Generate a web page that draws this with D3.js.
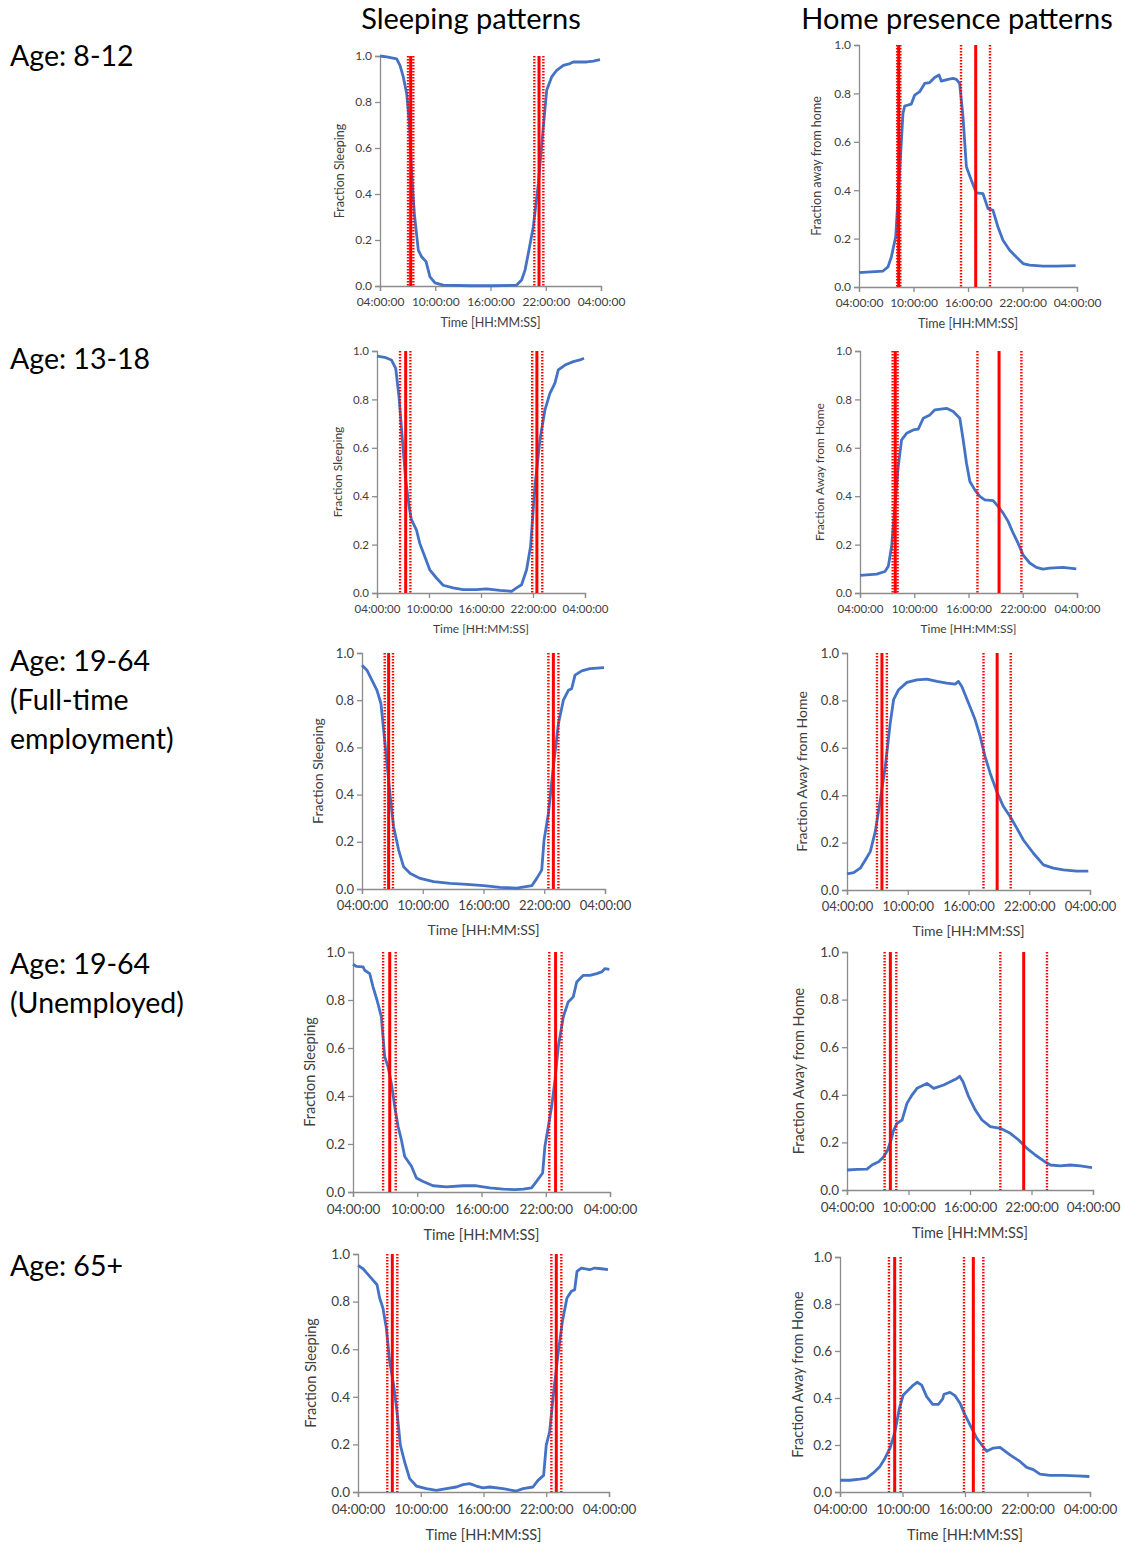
<!DOCTYPE html>
<html>
<head>
<meta charset="utf-8">
<script src="https://cdn.jsdelivr.net/npm/d3@7"></script>
<style>
  body { margin: 0; background: #fff; }
  svg { display: block; font-family: Lato, "Open Sans", sans-serif; }
</style>
</head>
<body>
<svg id="chart" width="1125" height="1546"></svg>
<script>
// x values are hours after 04:00:00, y values are fractions
const timeTicks = [0, 6, 12, 18, 24];
const timeLabels = ['04:00:00', '10:00:00', '16:00:00', '22:00:00', '04:00:00'];
const fracTicks = [0, 0.2, 0.4, 0.6, 0.8, 1.0];

const rowLabels = [
  ['Age: 8-12'],
  ['Age: 13-18'],
  ['Age: 19-64', '(Full-time', 'employment)'],
  ['Age: 19-64', '(Unemployed)'],
  ['Age: 65+']
];
const colTitles = ['Sleeping patterns', 'Home presence patterns'];

// sleeping curves
const sleep812 = [[0,1.0],[0.72,0.996],[1.81,0.988],[2.17,0.959],[2.53,0.909],[2.9,0.836],[3.19,0.706],[3.44,0.489],[3.73,0.315],[4.16,0.156],[4.52,0.127],[5.0,0.106],[5.43,0.04],[5.97,0.014],[6.88,0.004],[9.77,0.001],[12.3,0.001],[14.84,0.004],[15.38,0.026],[15.75,0.069],[16.11,0.142],[16.65,0.258],[17.2,0.446],[17.67,0.663],[18.1,0.851],[18.64,0.909],[19.19,0.938],[19.91,0.959],[20.63,0.967],[21.0,0.974],[22.44,0.974],[23.17,0.978],[23.89,0.984]];
const sleep1318 = [[0,0.979],[0.89,0.974],[1.66,0.963],[2.16,0.928],[2.54,0.811],[2.93,0.633],[3.31,0.468],[3.7,0.358],[3.97,0.303],[4.55,0.261],[4.93,0.206],[5.51,0.151],[6.09,0.096],[6.86,0.062],[7.63,0.032],[8.78,0.021],[9.94,0.014],[11.48,0.014],[12.63,0.017],[14.18,0.011],[15.52,0.007],[16.1,0.021],[16.68,0.034],[17.26,0.096],[17.72,0.193],[18.22,0.44],[18.8,0.633],[19.38,0.757],[19.95,0.825],[20.53,0.867],[20.92,0.922],[21.69,0.942],[22.65,0.956],[23.42,0.963],[23.88,0.97]];
const sleepFull = [[0,0.948],[0.49,0.927],[0.99,0.884],[1.48,0.842],[1.87,0.786],[2.14,0.673],[2.47,0.532],[2.79,0.391],[3.12,0.264],[3.62,0.165],[4.11,0.094],[4.77,0.066],[5.75,0.045],[7.07,0.031],[8.71,0.024],[10.36,0.02],[12.0,0.014],[13.64,0.007],[15.29,0.004],[16.77,0.014],[17.26,0.045],[17.75,0.08],[17.98,0.207],[18.41,0.32],[18.9,0.518],[19.4,0.701],[19.89,0.8],[20.38,0.842],[20.71,0.849],[21.04,0.906],[21.7,0.924],[22.52,0.934],[23.9,0.938]];
const sleepUnemp = [[0,0.949],[0.31,0.94],[0.94,0.938],[1.09,0.924],[1.56,0.91],[1.87,0.855],[2.24,0.8],[2.65,0.73],[2.96,0.564],[3.27,0.522],[3.58,0.453],[3.9,0.356],[4.21,0.273],[4.52,0.217],[4.83,0.148],[5.46,0.107],[5.92,0.058],[6.55,0.044],[7.48,0.026],[8.73,0.021],[10.29,0.026],[11.53,0.026],[12.78,0.017],[14.03,0.012],[15.12,0.01],[15.9,0.012],[16.68,0.017],[17.14,0.044],[17.71,0.079],[17.92,0.19],[18.24,0.273],[18.55,0.356],[18.86,0.467],[19.17,0.605],[19.64,0.73],[20.1,0.792],[20.57,0.813],[20.89,0.875],[21.51,0.903],[22.13,0.903],[22.76,0.91],[23.22,0.917],[23.53,0.931],[23.94,0.928]];
const sleep65 = [[0,0.952],[0.48,0.938],[1.12,0.906],[1.82,0.871],[2.07,0.815],[2.39,0.772],[2.71,0.688],[3.03,0.548],[3.41,0.449],[3.73,0.337],[4.05,0.197],[4.46,0.126],[4.94,0.056],[5.58,0.025],[6.53,0.014],[7.49,0.007],[8.45,0.014],[9.4,0.021],[10.04,0.031],[10.68,0.035],[11.31,0.025],[11.95,0.017],[12.59,0.021],[13.86,0.014],[15.14,0.004],[15.78,0.014],[16.73,0.021],[17.21,0.049],[17.75,0.07],[18.0,0.197],[18.32,0.253],[18.71,0.421],[19.12,0.576],[19.54,0.716],[19.98,0.815],[20.4,0.843],[20.72,0.85],[20.94,0.927],[21.35,0.941],[22.15,0.934],[22.63,0.941],[23.27,0.938],[23.9,0.934]];

// away-from-home curves
const home812 = [[0,0.059],[2.64,0.066],[3.19,0.083],[3.56,0.124],[4.04,0.207],[4.48,0.48],[4.84,0.717],[5.03,0.748],[5.76,0.756],[6.13,0.793],[6.68,0.807],[7.23,0.841],[7.78,0.845],[8.33,0.866],[8.81,0.876],[9.06,0.851],[9.8,0.858],[10.35,0.862],[10.72,0.858],[11.08,0.841],[11.45,0.703],[11.82,0.497],[12.37,0.441],[12.92,0.389],[13.65,0.386],[14.2,0.324],[14.75,0.317],[15.3,0.248],[15.85,0.193],[16.59,0.152],[17.32,0.124],[18.06,0.097],[18.79,0.09],[20.26,0.086],[21.72,0.086],[23.85,0.088]];
const home1318 = [[0,0.073],[1.84,0.078],[2.76,0.089],[3.13,0.11],[3.5,0.193],[3.86,0.358],[4.23,0.523],[4.6,0.633],[5.15,0.66],[5.89,0.674],[6.44,0.677],[7.0,0.722],[7.73,0.736],[8.28,0.757],[9.57,0.763],[10.31,0.75],[11.04,0.722],[11.41,0.633],[11.78,0.536],[12.15,0.461],[12.7,0.426],[13.25,0.399],[13.8,0.385],[14.72,0.382],[15.27,0.358],[15.83,0.33],[16.38,0.296],[16.93,0.248],[17.48,0.206],[18.03,0.158],[18.77,0.124],[19.51,0.106],[20.24,0.099],[20.98,0.103],[22.45,0.106],[23.92,0.1]];
const homeFull = [[0,0.068],[0.66,0.073],[1.31,0.092],[1.81,0.127],[2.3,0.162],[2.79,0.246],[3.29,0.38],[3.78,0.521],[4.27,0.704],[4.6,0.803],[5.1,0.845],[5.92,0.876],[6.9,0.887],[7.89,0.89],[8.88,0.88],[9.86,0.873],[10.68,0.869],[11.01,0.88],[11.34,0.859],[12.0,0.789],[12.66,0.718],[13.15,0.648],[13.64,0.563],[14.14,0.493],[14.79,0.415],[15.45,0.352],[16.11,0.31],[16.77,0.261],[17.42,0.211],[18.41,0.155],[19.4,0.106],[20.38,0.092],[21.37,0.085],[22.68,0.08],[23.83,0.08]];
const homeUnemp = [[0,0.084],[0.98,0.087],[1.95,0.088],[2.44,0.105],[3.09,0.119],[3.58,0.14],[3.97,0.168],[4.29,0.21],[4.55,0.252],[4.88,0.28],[5.37,0.294],[5.85,0.364],[6.34,0.399],[6.83,0.427],[7.8,0.448],[8.46,0.427],[9.43,0.441],[10.08,0.455],[10.73,0.469],[10.99,0.478],[11.32,0.455],[11.87,0.392],[12.52,0.336],[13.17,0.294],[13.98,0.266],[14.96,0.259],[15.93,0.238],[16.75,0.21],[17.56,0.175],[18.37,0.147],[19.19,0.122],[19.84,0.105],[20.81,0.101],[21.79,0.105],[22.76,0.101],[23.9,0.094]];
const home65 = [[0,0.05],[0.96,0.05],[1.92,0.055],[2.56,0.059],[3.2,0.081],[3.84,0.109],[4.32,0.144],[4.8,0.187],[5.28,0.257],[5.7,0.356],[6.08,0.413],[6.56,0.434],[7.04,0.455],[7.42,0.467],[7.84,0.455],[8.32,0.406],[8.9,0.373],[9.44,0.373],[9.86,0.396],[9.98,0.416],[10.56,0.424],[11.04,0.41],[11.52,0.378],[12.0,0.328],[12.48,0.286],[13.12,0.229],[13.6,0.201],[14.08,0.173],[14.72,0.187],[15.36,0.19],[16.32,0.158],[17.28,0.13],[17.92,0.105],[18.56,0.095],[19.2,0.076],[20.16,0.071],[21.44,0.071],[22.72,0.069],[23.94,0.066]];

// red reference lines: [lower dotted, solid mean, upper dotted] per event
const sleepMarks812 = [[3.04, 3.33, 3.62], [16.76, 17.27, 17.74]];
const sleepMarks1318 = [[2.66, 3.31, 3.85], [17.91, 18.45, 19.07]];
const sleepMarksFull = [[2.24, 2.63, 3.06], [18.41, 18.9, 19.4]];
const sleepMarksUnemp = [[2.81, 3.43, 3.99], [18.33, 18.92, 19.48]];
const sleepMarks65 = [[2.8, 3.28, 3.76], [18.49, 18.96, 19.44]];
const homeMarks812 = [[4.2, 4.37, 4.55], [11.23, 12.85, 14.42]];
const homeMarks1318 = [[3.61, 3.9, 4.16], [12.99, 15.38, 17.85]];
const homeMarksFull = [[2.96, 3.45, 3.94], [13.48, 14.83, 16.17]];
const homeMarksUnemp = [[3.67, 4.23, 4.81], [14.96, 17.24, 19.51]];
const homeMarks65 = [[4.7, 5.25, 5.82], [11.9, 12.8, 13.76]];

// panel boxes [left, top, right, bottom], y-title offset, font sizes
const panels = [
  { box: [380, 56, 601, 286], yt: 40, fs: 12, ft: 12.5, yTitle: 'Fraction Sleeping', data: sleep812, marks: sleepMarks812 },
  { box: [859, 45, 1077, 287], yt: 42, fs: 12, ft: 12.5, yTitle: 'Fraction away from home', data: home812, marks: homeMarks812 },
  { box: [377, 351, 585, 593], yt: 39, fs: 11.5, ft: 12, yTitle: 'Fraction Sleeping', data: sleep1318, marks: sleepMarks1318 },
  { box: [860, 351, 1077, 593], yt: 40, fs: 11.5, ft: 12, yTitle: 'Fraction Away from Home', data: home1318, marks: homeMarks1318 },
  { box: [362, 653, 605, 889], yt: 44, fs: 13, ft: 14, yTitle: 'Fraction Sleeping', data: sleepFull, marks: sleepMarksFull },
  { box: [847, 653, 1090, 890], yt: 45, fs: 13, ft: 14, yTitle: 'Fraction Away from Home', data: homeFull, marks: homeMarksFull },
  { box: [353, 952, 610, 1192], yt: 43, fs: 13.5, ft: 14.5, yTitle: 'Fraction Sleeping', data: sleepUnemp, marks: sleepMarksUnemp },
  { box: [847, 952, 1093, 1190], yt: 48, fs: 13.5, ft: 14.5, yTitle: 'Fraction Away from Home', data: homeUnemp, marks: homeMarksUnemp },
  { box: [358, 1254, 609, 1492], yt: 47, fs: 13.5, ft: 14.5, yTitle: 'Fraction Sleeping', data: sleep65, marks: sleepMarks65 },
  { box: [840, 1257, 1090, 1492], yt: 42, fs: 13.5, ft: 14.5, yTitle: 'Fraction Away from Home', data: home65, marks: homeMarks65 }
];
const rowBaselines = [66, 369, 671, 974, 1276];

const svg = d3.select('#chart');
const axisColor = '#8c8c8c';
const textColor = '#404040';

svg.selectAll('.colTitle')
  .data(colTitles)
  .join('text')
  .attr('class', 'colTitle')
  .attr('x', (d, i) => [471, 957][i])
  .attr('y', 29)
  .attr('text-anchor', 'middle')
  .attr('font-size', 29)
  .attr('fill', '#000')
  .text(d => d);

rowLabels.forEach((lines, r) => {
  svg.append('text')
    .attr('x', 10)
    .attr('y', rowBaselines[r])
    .attr('font-size', 28.5)
    .attr('fill', '#000')
    .selectAll('tspan')
    .data(lines)
    .join('tspan')
    .attr('x', 10)
    .attr('dy', (d, i) => i ? 39 : 0)
    .text(d => d);
});

panels.forEach(p => {
  const [x0, y0, x1, y1] = p.box;
  const x = d3.scaleLinear().domain([0, 24]).range([x0, x1]);
  const y = d3.scaleLinear().domain([0, 1]).range([y1, y0]);
  const g = svg.append('g');

  const xAxis = g.append('g')
    .attr('transform', `translate(0,${y1})`)
    .call(d3.axisBottom(x).tickValues(timeTicks).tickSize(5)
      .tickFormat((d, i) => timeLabels[i]));
  const yAxis = g.append('g')
    .attr('transform', `translate(${x0},0)`)
    .call(d3.axisLeft(y).tickValues(fracTicks).tickSize(5).tickFormat(d3.format('.1f')));

  [xAxis, yAxis].forEach(a => {
    a.select('.domain').attr('stroke', axisColor).attr('stroke-width', 1.3);
    a.selectAll('.tick line').attr('stroke', axisColor).attr('stroke-width', 1.3);
    a.selectAll('.tick text').attr('fill', textColor)
      .attr('font-size', p.fs).attr('font-family', 'Lato, sans-serif');
  });
  xAxis.selectAll('.tick text').attr('dy', null).attr('y', p.fs + 8);
  yAxis.selectAll('.tick text').attr('x', -8);

  g.append('text')
    .attr('x', (x0 + x1) / 2)
    .attr('y', y1 + p.ft * 3.3)
    .attr('text-anchor', 'middle')
    .attr('font-size', p.ft)
    .attr('fill', textColor)
    .text('Time [HH:MM:SS]');

  g.append('text')
    .attr('transform', `translate(${x0 - p.yt},${(y0 + y1) / 2}) rotate(-90)`)
    .attr('text-anchor', 'middle')
    .attr('dy', '0.35em')
    .attr('font-size', p.ft)
    .attr('fill', textColor)
    .text(p.yTitle);

  const line = d3.line().x(d => x(d[0])).y(d => y(d[1]));
  g.append('path')
    .datum(p.data)
    .attr('fill', 'none')
    .attr('stroke', '#4472c4')
    .attr('stroke-width', 2.8)
    .attr('stroke-linejoin', 'round')
    .attr('d', line);

  const marks = p.marks.flatMap(m => [
    { t: m[0], solid: false }, { t: m[2], solid: false }, { t: m[1], solid: true }
  ]);
  g.selectAll('.mark')
    .data(marks)
    .join('line')
    .attr('class', 'mark')
    .attr('x1', d => x(d.t))
    .attr('x2', d => x(d.t))
    .attr('y1', y(1))
    .attr('y2', y(0))
    .attr('stroke', '#ff0000')
    .attr('stroke-width', d => d.solid ? 3 : 2.4)
    .attr('stroke-dasharray', d => d.solid ? null : '1.6,1.4');
});
</script>
</body>
</html>
